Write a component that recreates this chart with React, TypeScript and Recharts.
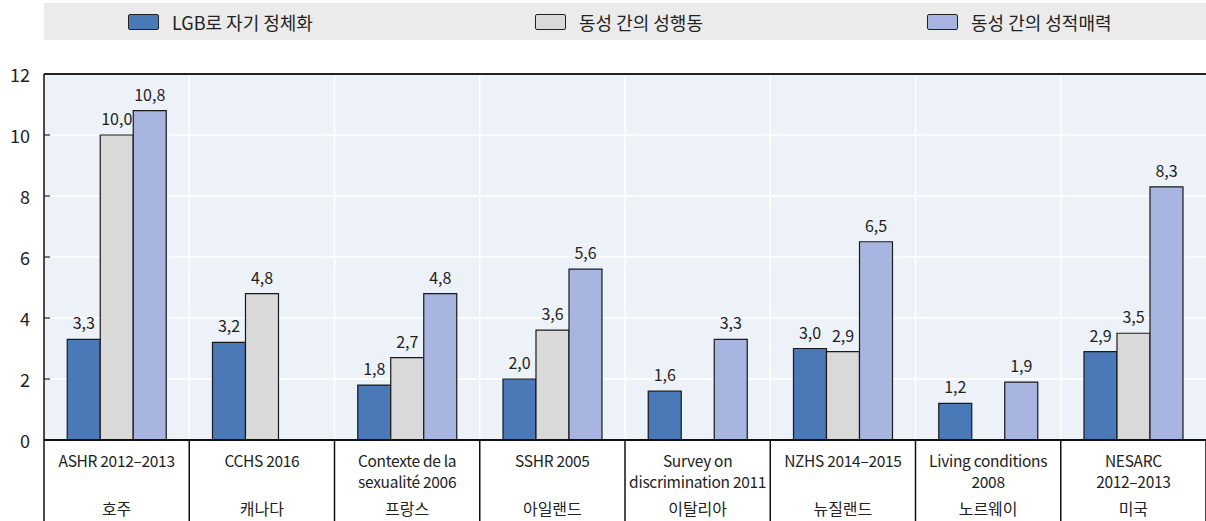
import React from 'react';
import { BarChart, Bar, XAxis, YAxis, CartesianGrid, ReferenceLine, LabelList } from 'recharts';

const surveys = ['ASHR 2012–2013', 'CCHS 2016', 'Contexte de la|sexualité 2006', 'SSHR 2005', 'Survey on|discrimination 2011', 'NZHS 2014–2015', 'Living conditions|2008', 'NESARC|2012–2013'];
const countries = ['호주', '캐나다', '프랑스', '아일랜드', '이탈리아', '뉴질랜드', '노르웨이', '미국'];
const lgbIdentity = [3.3, 3.2, 1.8, 2.0, 1.6, 3.0, 1.2, 2.9];
const sameSexBehaviour = [10.0, 4.8, 2.7, 3.6, null, 2.9, null, 3.5];
const sameSexAttraction = [10.8, null, 4.8, 5.6, 3.3, 6.5, 1.9, 8.3];
const seriesNames = ['LGB로 자기 정체화', '동성 간의 성행동', '동성 간의 성적매력'];
const yTicks = [0, 2, 4, 6, 8, 10, 12];

const colors = ['#4B78B7', '#D9D9D9', '#A7B5E0'];
const FONT = '"Noto Sans CJK KR", "Noto Sans", sans-serif';

const data = surveys.map((s, i) => ({
  key: String(i),
  survey: s,
  country: countries[i],
  a: lgbIdentity[i],
  b: sameSexBehaviour[i],
  c: sameSexAttraction[i],
}));

const W = 1206;
const H = 521;
const LEFT = 44;
const TOP = 74;
const XH = 81;
const BW = (W - LEFT) / surveys.length;

const fmt = (v: any) => (v === null || v === undefined ? '' : Number(v).toFixed(1).replace('.', ','));

const XTick = (props: any) => {
  const { x, y, payload } = props;
  const idx = Number(payload.value);
  const lines = surveys[idx].split('|');
  const left = x - BW / 2;
  return (
    <g>
      <line x1={left} y1={y} x2={left} y2={y + XH} stroke="#111" strokeWidth={1.5} />
      {idx === surveys.length - 1 && (
        <line x1={x + BW / 2} y1={y} x2={x + BW / 2} y2={y + XH} stroke="#111" strokeWidth={1.5} />
      )}
      {lines.map((l, k) => (
        <text key={k} x={x} y={y + 20 + k * 21} textAnchor="middle" dominantBaseline="central" fontSize={15.5} letterSpacing={-0.3} fill="#222" fontFamily={FONT}>
          {l}
        </text>
      ))}
      <text x={x} y={y + 68} textAnchor="middle" dominantBaseline="central" fontSize={16} fill="#222" fontFamily={FONT}>
        {countries[idx]}
      </text>
    </g>
  );
};

const YTick = (props: any) => {
  const { x, y, payload } = props;
  return (
    <g>
      {payload.value !== 0 && payload.value !== 12 && <line x1={x} y1={y} x2={x + 6} y2={y} stroke="#222" strokeWidth={1.2} />}
      <text x={x - 14} y={y} textAnchor="end" dominantBaseline="central" fontSize={18} fill="#222" fontFamily={FONT}>
        {payload.value}
      </text>
    </g>
  );
};

const gridX = ({ offset }: any) => {
  const out: number[] = [];
  for (let i = 1; i < surveys.length; i++) out.push(offset.left + (i * offset.width) / surveys.length);
  return out;
};

const legendPos = [128, 535, 927];

export default function App() {
  return (
    <div style={{ position: 'absolute', left: 0, top: 0, width: W, height: H, background: '#fff', fontFamily: FONT }}>
      <div style={{ position: 'absolute', left: LEFT, top: 3, width: W - LEFT, height: 37, background: '#EBEBEB' }} />
      {seriesNames.map((n, i) => (
        <div key={n} style={{ position: 'absolute', left: legendPos[i], top: 3, height: 37, display: 'flex', alignItems: 'center' }}>
          <div style={{ width: 31, height: 16, background: colors[i], border: '1.5px solid #222', borderRadius: 2, boxSizing: 'border-box', marginRight: 13 }} />
          <span style={{ fontSize: 18, color: '#222', whiteSpace: 'nowrap' }}>{n}</span>
        </div>
      ))}
      <div style={{ position: 'absolute', left: 0, top: 0 }}>
        <BarChart width={W} height={H} data={data} margin={{ top: TOP, right: 0, bottom: 0, left: 0 }} barCategoryGap="16%" barGap={0}>
          <CartesianGrid fill="#ECF2F7" stroke="#FFFFFF" strokeWidth={1.5} verticalCoordinatesGenerator={gridX} />
          <XAxis dataKey="key" height={XH} tick={<XTick />} tickLine={false} tickSize={0} tickMargin={0} axisLine={{ stroke: '#111', strokeWidth: 2 }} interval={0} />
          <YAxis width={LEFT} domain={[0, 12]} ticks={yTicks} tick={<YTick />} tickLine={false} tickSize={0} tickMargin={0} axisLine={{ stroke: '#111', strokeWidth: 1.5 }} interval={0} />
          <ReferenceLine y={12} stroke="#222" strokeWidth={2} />
          <Bar dataKey="a" fill={colors[0]} stroke="#1a1a1a" strokeWidth={1.2} isAnimationActive={false}>
            <LabelList dataKey="a" position="top" offset={10} formatter={fmt} style={{ fontSize: 16, fill: '#222', fontFamily: FONT }} />
          </Bar>
          <Bar dataKey="b" fill={colors[1]} stroke="#1a1a1a" strokeWidth={1.2} isAnimationActive={false}>
            <LabelList dataKey="b" position="top" offset={10} formatter={fmt} style={{ fontSize: 16, fill: '#222', fontFamily: FONT }} />
          </Bar>
          <Bar dataKey="c" fill={colors[2]} stroke="#1a1a1a" strokeWidth={1.2} isAnimationActive={false}>
            <LabelList dataKey="c" position="top" offset={10} formatter={fmt} style={{ fontSize: 16, fill: '#222', fontFamily: FONT }} />
          </Bar>
        </BarChart>
      </div>
    </div>
  );
}
